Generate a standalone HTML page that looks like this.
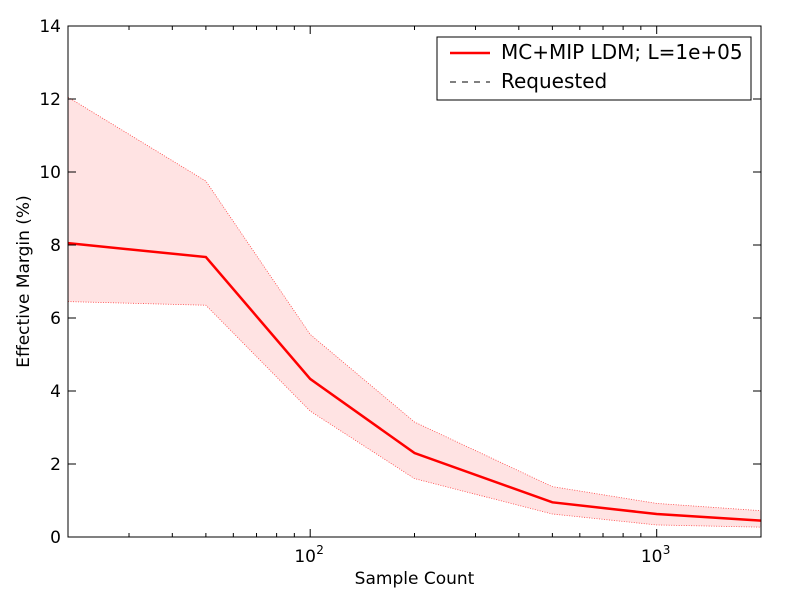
<!DOCTYPE html>
<html><head><meta charset="utf-8"><style>
body{margin:0;background:#fff;}
svg text{font-family:"DejaVu Sans","Liberation Sans",sans-serif;}
</style></head><body>
<svg id="chart" width="800" height="600" xmlns="http://www.w3.org/2000/svg">
<rect width="800" height="600" fill="#fff"/>
<g id="plot"></g>
</svg>
<script>
const sampleCounts=[20,50,100,200,500,1000,2000];
const meanMargin=[8.05,7.67,4.33,2.3,0.95,0.63,0.45];
const upperMargin=[12.05,9.75,5.55,3.15,1.38,0.92,0.72];
const lowerMargin=[6.45,6.35,3.45,1.6,0.63,0.33,0.27];
const yTicks=[0,2,4,6,8,10,12,14];
const xMajor=[100,1000];
const xMajorExp=["2","3"];
const requested=[0,0];

const L=68,R=761,T=26,B=537;
const xmin=Math.log10(20),xmax=Math.log10(2000);
const X=v=>L+(Math.log10(v)-xmin)/(xmax-xmin)*(R-L);
const Y=v=>B-(v/14)*(B-T);
const NS="http://www.w3.org/2000/svg";
const g=document.getElementById('plot');
function mk(t,a,parent){const e=document.createElementNS(NS,t);for(const k in a)e.setAttribute(k,a[k]);(parent||g).appendChild(e);return e;}

let d=sampleCounts.map((s,i)=>(i?'L':'M')+X(s)+','+Y(upperMargin[i])).join('');
for(let i=sampleCounts.length-1;i>=0;i--)d+='L'+X(sampleCounts[i])+','+Y(lowerMargin[i]);
let band=mk('path',{d:d+'Z',fill:'#ffe3e3',stroke:'none'});


let up=mk('polyline',{points:sampleCounts.map((s,i)=>X(s)+','+Y(upperMargin[i])).join(' '),fill:'none',stroke:'#f44',"stroke-width":0.8,"stroke-dasharray":"1,1.5"});


let lo=mk('polyline',{points:sampleCounts.map((s,i)=>X(s)+','+Y(lowerMargin[i])).join(' '),fill:'none',stroke:'#f44',"stroke-width":0.8,"stroke-dasharray":"1,1.5"});


let req=mk('line',{x1:L,x2:R,y1:Y(requested[0]),y2:Y(requested[1]),stroke:'#000',"stroke-dasharray":"6,6","stroke-width":1});


let mean=mk('polyline',{points:sampleCounts.map((s,i)=>X(s)+','+Y(meanMargin[i])).join(' '),fill:'none',stroke:'#f00',"stroke-width":2.5});



let fr=mk('rect',{x:L,y:T,width:R-L,height:B-T,fill:'none',stroke:'#000',"stroke-width":1});



yTicks.forEach(v=>{
  const y=Y(v);
  mk('line',{x1:L,x2:L+8,y1:y,y2:y,stroke:'#000'});
  mk('line',{x1:R,x2:R-8,y1:y,y2:y,stroke:'#000'});
  let t=mk('text',{x:L-7,y:y+6,"text-anchor":"end","font-size":17});
  t.textContent=v;
  
  
});
for(let e=1;e<=3;e++)for(let m=1;m<10;m++){
  const v=m*Math.pow(10,e);
  if(v<20||v>2000)continue;
  const x=X(v),len=m==1?8:4;
  mk('line',{x1:x,x2:x,y1:B,y2:B-len,stroke:'#000'});
  mk('line',{x1:x,x2:x,y1:T,y2:T+len,stroke:'#000'});
}
xMajor.forEach((v,i)=>{
  let t=mk('text',{x:X(v)-5,y:B+25,"text-anchor":"middle","font-size":17});
  t.textContent='10';
  
  
  let s=mk('text',{x:X(v)+6,y:B+17,"font-size":12});
  s.textContent=xMajorExp[i];
});
let xt=mk('text',{x:(L+R)/2,y:584,"text-anchor":"middle","font-size":17});
xt.textContent='Sample Count';


let yt=mk('text',{x:29,y:(T+B)/2,"text-anchor":"middle","font-size":17,transform:`rotate(-90 29 ${(T+B)/2})`});
yt.textContent='Effective Margin (%)';



let lg=mk('g',{});


mk('rect',{x:437,y:37,width:314,height:63,fill:'#fff',stroke:'#000'},lg);
mk('line',{x1:450,x2:490,y1:53,y2:53,stroke:'#f00',"stroke-width":2.5},lg);
let l1=mk('text',{x:501,y:59,"font-size":20},lg);l1.textContent='MC+MIP LDM; L=1e+05';


mk('line',{x1:450,x2:490,y1:82,y2:82,stroke:'#000',"stroke-dasharray":"6,6"},lg);
let l2=mk('text',{x:501,y:88,"font-size":20},lg);l2.textContent='Requested';


</script>
</body></html>
